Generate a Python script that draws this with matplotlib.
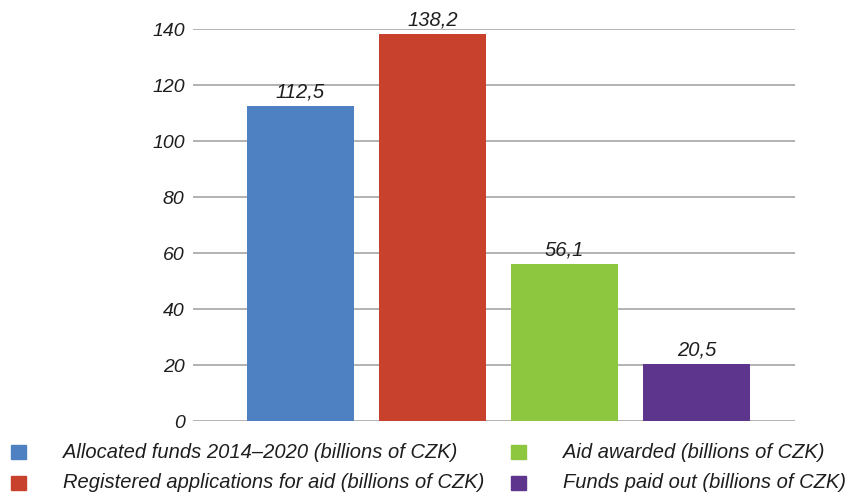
import matplotlib
matplotlib.use("Agg")
import matplotlib.pyplot as plt
from matplotlib.patches import Rectangle

categories = ["Allocated funds 2014\u20132020 (billions of CZK)",
              "Registered applications for aid (billions of CZK)",
              "Aid awarded (billions of CZK)",
              "Funds paid out (billions of CZK)"]
values = [112.5, 138.2, 56.1, 20.5]
value_labels = ["112,5", "138,2", "56,1", "20,5"]
colors = ["#4D81C1", "#C8412D", "#8DC63F", "#5E358C"]
yticks = [0, 20, 40, 60, 80, 100, 120, 140]

plt.rcParams['font.family'] = ['Liberation Sans', 'DejaVu Sans']
txtcol = "#1E1E1E"

fig = plt.figure(figsize=(8.6, 4.95), dpi=100)
ax = fig.add_axes([193/860, 1-421/495, (795-193)/860, (421-29)/495])

x = list(range(len(values)))
bars = ax.bar(x, values, width=0.81, color=colors, zorder=3)
for xi, v, lab in zip(x, values, value_labels):
    ax.annotate(lab, (xi, v), xytext=(0, 3), textcoords="offset points",
                ha="center", va="bottom", fontsize=14.5, style="italic",
                color=txtcol, annotation_clip=False)

ax.set_xlim(-0.814, 3.746)
ax.set_ylim(0, 140)
ax.set_yticks(yticks)
ax.set_yticklabels([str(t) for t in yticks], fontsize=14, style="italic", color=txtcol)
ax.set_xticks([])
ax.tick_params(axis="y", length=0, pad=6)
for s in ax.spines.values():
    s.set_visible(False)
ax.grid(axis="y", color="#9E9E9E", linewidth=1.1, zorder=0)
ax.set_axisbelow(True)

# legend (manual, column-major 2x2)
marker_x = [11, 511]
text_x = [63, 563]
row_y = [452, 483]
for i, (lab, c) in enumerate(zip(categories, colors)):
    col, row = i // 2, i % 2
    mx = marker_x[col]
    my = row_y[row]
    fig.add_artist(Rectangle((mx/860, 1-(my+7)/495), 15/860, 14/495,
                             transform=fig.transFigure, color=c))
    fig.text(text_x[col]/860, 1-my/495, lab, fontsize=14.5, style="italic",
             color=txtcol, ha="left", va="center")

fig.savefig("out.png", dpi=100)
